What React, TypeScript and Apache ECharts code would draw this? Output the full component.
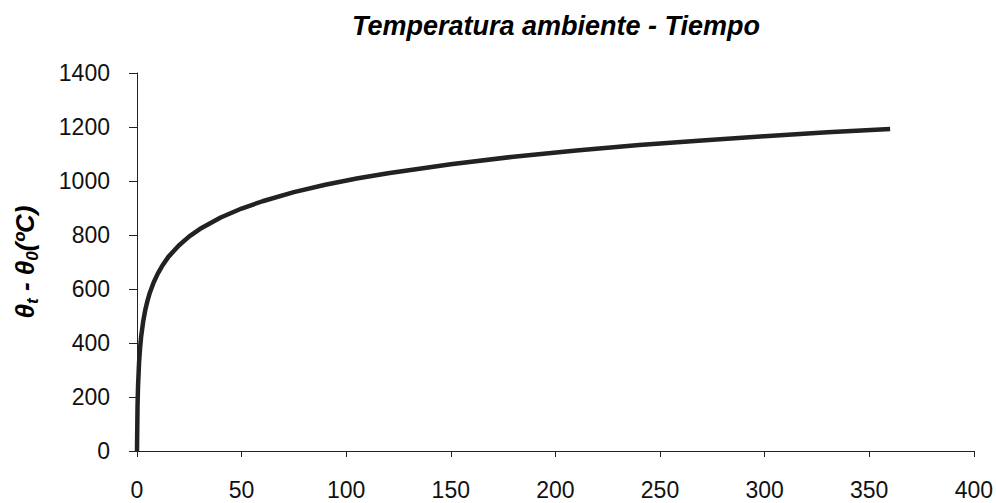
import React, { useEffect, useRef } from "react";
import * as echarts from "echarts";

const title = "Temperatura ambiente - Tiempo";
const timeMin = [0, 0.25, 0.5, 1, 1.5, 2, 3, 4, 5, 6, 8, 10, 12, 15, 20, 25, 30, 40, 50, 60, 75, 90, 105, 120, 150, 180, 210, 240, 270, 300, 330, 360];
const tempRise = [0, 165, 241, 329, 384, 425, 482, 524, 556, 583, 625, 658, 685, 719, 761, 795, 822, 865, 898, 925, 959, 986, 1009, 1029, 1062, 1090, 1113, 1133, 1150, 1166, 1181, 1193];

const FONT = "'Liberation Sans', Arial, sans-serif";

export default function App() {
  const ref = useRef<HTMLDivElement>(null);
  useEffect(() => {
    if (!ref.current) return;
    const chart = echarts.init(ref.current, null, { renderer: "svg" });
    chart.setOption({
      animation: false,
      backgroundColor: "#ffffff",
      title: {
        text: title,
        left: 551,
        textAlign: "center",
        top: 7,
        textStyle: { fontFamily: FONT, fontSize: 27, fontWeight: "bold", fontStyle: "italic", color: "#000" },
      },
      grid: { left: 137, right: 21, top: 73, bottom: 52 },
      xAxis: {
        type: "value",
        min: 0,
        max: 400,
        interval: 50,
        axisLine: { show: true, lineStyle: { color: "#222", width: 1 } },
        axisTick: { show: true, length: 6, lineStyle: { color: "#222" } },
        splitLine: { show: false },
        axisLabel: { margin: 27, fontFamily: FONT, fontSize: 23, color: "#111", formatter: (v: number) => String(v) },
      },
      yAxis: {
        type: "value",
        min: 0,
        max: 1400,
        interval: 200,
        axisLine: { show: true, lineStyle: { color: "#222", width: 1 } },
        axisTick: { show: true, length: 8, lineStyle: { color: "#222" } },
        splitLine: { show: false },
        axisLabel: { margin: 27, fontFamily: FONT, fontSize: 23, color: "#111", formatter: (v: number) => String(v) },
        name: "{m|θ}{s|t}{m| - θ}{s|0}{m|(ºC)}",
        nameLocation: "middle",
        nameRotate: 90,
        nameGap: 96,
        nameTextStyle: {
          rich: {
            m: { fontFamily: FONT, fontSize: 26, fontWeight: "bold", fontStyle: "italic", color: "#000", lineHeight: 32, verticalAlign: "middle" },
            s: { fontFamily: FONT, fontSize: 17, fontWeight: "bold", fontStyle: "italic", color: "#000", lineHeight: 32, verticalAlign: "bottom", padding: [12, 0, 0, 0] },
          },
        },
      },
      series: [
        {
          type: "line",
          data: timeMin.map((t, i) => [t, tempRise[i]]),
          showSymbol: false,
          smooth: false,
          lineStyle: { color: "#222", width: 4.5 },
        },
      ],
    });
    return () => chart.dispose();
  }, []);
  return <div ref={ref} style={{ position: "fixed", left: 0, top: 0, width: 996, height: 503 }} />;
}
